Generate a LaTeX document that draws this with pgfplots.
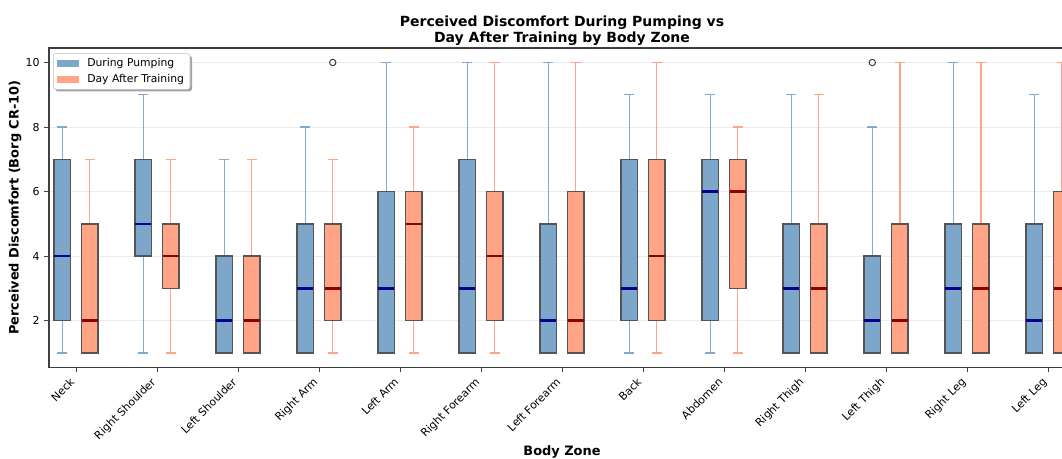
\documentclass[border=0pt]{standalone}
\usepackage{pgfplots}
\pgfplotsset{compat=1.18}
\usepgfplotslibrary{statistics}
\usetikzlibrary{shadows}
\usepackage{fontspec}
\setmainfont{DejaVu Sans}
\definecolor{bfill}{RGB}{125,167,202}
\definecolor{ofill}{RGB}{255,164,132}
\definecolor{bwhisk}{RGB}{128,170,208}
\definecolor{owhisk}{RGB}{255,165,135}
\definecolor{bmed}{RGB}{0,0,139}
\definecolor{omed}{RGB}{139,0,0}
\definecolor{boxedge}{RGB}{85,85,85}
\pgfplotsset{
  bstyle/.style={solid, mark=none, boxedge, forget plot,
    boxplot/box extend=0.2, boxplot/whisker extend=0.12,
    boxplot/every box/.style={draw=boxedge, fill=bfill, line width=1.1pt},
    boxplot/every whisker/.style={draw=bwhisk, line width=1.05pt},
    boxplot/every median/.style={draw=bmed, line width=1.8pt}},
  ostyle/.style={solid, mark=none, boxedge, forget plot,
    boxplot/box extend=0.2, boxplot/whisker extend=0.12,
    boxplot/every box/.style={draw=boxedge, fill=ofill, line width=1.1pt},
    boxplot/every whisker/.style={draw=owhisk, line width=1.05pt},
    boxplot/every median/.style={draw=omed, line width=1.8pt}},
  bluepatch/.style={legend image code/.code={%
    \pgfsetcornersarced{\pgfpointorigin}\pgfsetfillcolor{bfill}\pgfpathrectangle{\pgfpoint{0pt}{-2.4pt}}{\pgfpoint{16.5pt}{4.8pt}}\pgfusepath{fill}}},
  orangepatch/.style={legend image code/.code={%
    \pgfsetcornersarced{\pgfpointorigin}\pgfsetfillcolor{ofill}\pgfpathrectangle{\pgfpoint{0pt}{-2.4pt}}{\pgfpoint{16.5pt}{4.8pt}}\pgfusepath{fill}}},
}
\begin{document}
\begin{tikzpicture}
\begin{axis}[
  at={(36.75pt,68pt)}, anchor=south west,
  scale only axis, width=769.5pt, height=239.5pt,
  xmin=-0.333, xmax=12.333, ymin=0.55, ymax=10.45,
  boxplot/draw direction=y,
  xtick={0,1,2,3,4,5,6,7,8,9,10,11,12},
  xticklabels={Neck,Right Shoulder,Left Shoulder,Right Arm,Left Arm,Right Forearm,Left Forearm,Back,Abdomen,Right Thigh,Left Thigh,Right Leg,Left Leg},
  ytick={2,4,6,8,10},
  tick pos=left, tick align=outside, major tick length=3.5pt,
  tick style={black!75, line width=0.6pt},
  axis line style={black!75, line width=0.8pt},
  ymajorgrids, major grid style={black!8, line width=0.6pt},
  /pgf/number format/assume math mode=true,
  ticklabel style={font=\fontsize{8.2}{9.8}\selectfont},
  xticklabel style={xshift=-5pt, yshift=-1.5pt, rotate=45, anchor=north east, inner sep=1.5pt},
  xlabel={Body Zone},
  xlabel style={at={(axis description cs:0.5,-0.2665)}, anchor=center, font=\bfseries\fontsize{9.7}{11.6}\selectfont},
  ylabel={Perceived Discomfort (Borg CR-10)},
  ylabel style={at={(axis description cs:-0.0331,0.5)}, anchor=center, font=\bfseries\fontsize{9.7}{11.6}\selectfont},
  title={Perceived Discomfort During Pumping vs\\Day After Training by Body Zone},
  title style={at={(axis description cs:0.5,1)}, anchor=south, yshift=-7.5pt, align=center, font=\bfseries\fontsize{10.5}{11.5}\selectfont},
  legend cell align=left,
  legend style={at={(axis description cs:0,1)}, anchor=north west, xshift=3pt, yshift=-4pt,
    font=\fontsize{8.1}{9.7}\selectfont, draw=black!25, fill=white, rounded corners=2pt,
    drop shadow={shadow xshift=1.5pt, shadow yshift=-1.5pt, fill=black!45, opacity=0.8},
    inner xsep=2.5pt, inner ysep=1.5pt, row sep=0.5pt,
    /tikz/every odd column/.append style={column sep=4.5pt}},
]
% During Pumping (blue) and Day After Training (orange)
\addplot[bstyle, boxplot prepared={draw position=-0.17, lower whisker=1, lower quartile=2, median=4, upper quartile=7, upper whisker=8}] coordinates {};
\addplot[ostyle, boxplot prepared={draw position=0.17, lower whisker=1, lower quartile=1, median=2, upper quartile=5, upper whisker=7}] coordinates {};
\addplot[bstyle, boxplot prepared={draw position=0.83, lower whisker=1, lower quartile=4, median=5, upper quartile=7, upper whisker=9}] coordinates {};
\addplot[ostyle, boxplot prepared={draw position=1.17, lower whisker=1, lower quartile=3, median=4, upper quartile=5, upper whisker=7}] coordinates {};
\addplot[bstyle, boxplot prepared={draw position=1.83, lower whisker=1, lower quartile=1, median=2, upper quartile=4, upper whisker=7}] coordinates {};
\addplot[ostyle, boxplot prepared={draw position=2.17, lower whisker=1, lower quartile=1, median=2, upper quartile=4, upper whisker=7}] coordinates {};
\addplot[bstyle, boxplot prepared={draw position=2.83, lower whisker=1, lower quartile=1, median=3, upper quartile=5, upper whisker=8}] coordinates {};
\addplot[ostyle, boxplot prepared={draw position=3.17, lower whisker=1, lower quartile=2, median=3, upper quartile=5, upper whisker=7}] coordinates {};
\addplot[bstyle, boxplot prepared={draw position=3.83, lower whisker=1, lower quartile=1, median=3, upper quartile=6, upper whisker=10}] coordinates {};
\addplot[ostyle, boxplot prepared={draw position=4.17, lower whisker=1, lower quartile=2, median=5, upper quartile=6, upper whisker=8}] coordinates {};
\addplot[bstyle, boxplot prepared={draw position=4.83, lower whisker=1, lower quartile=1, median=3, upper quartile=7, upper whisker=10}] coordinates {};
\addplot[ostyle, boxplot prepared={draw position=5.17, lower whisker=1, lower quartile=2, median=4, upper quartile=6, upper whisker=10}] coordinates {};
\addplot[bstyle, boxplot prepared={draw position=5.83, lower whisker=1, lower quartile=1, median=2, upper quartile=5, upper whisker=10}] coordinates {};
\addplot[ostyle, boxplot prepared={draw position=6.17, lower whisker=1, lower quartile=1, median=2, upper quartile=6, upper whisker=10}] coordinates {};
\addplot[bstyle, boxplot prepared={draw position=6.83, lower whisker=1, lower quartile=2, median=3, upper quartile=7, upper whisker=9}] coordinates {};
\addplot[ostyle, boxplot prepared={draw position=7.17, lower whisker=1, lower quartile=2, median=4, upper quartile=7, upper whisker=10}] coordinates {};
\addplot[bstyle, boxplot prepared={draw position=7.83, lower whisker=1, lower quartile=2, median=6, upper quartile=7, upper whisker=9}] coordinates {};
\addplot[ostyle, boxplot prepared={draw position=8.17, lower whisker=1, lower quartile=3, median=6, upper quartile=7, upper whisker=8}] coordinates {};
\addplot[bstyle, boxplot prepared={draw position=8.83, lower whisker=1, lower quartile=1, median=3, upper quartile=5, upper whisker=9}] coordinates {};
\addplot[ostyle, boxplot prepared={draw position=9.17, lower whisker=1, lower quartile=1, median=3, upper quartile=5, upper whisker=9}] coordinates {};
\addplot[bstyle, boxplot prepared={draw position=9.83, lower whisker=1, lower quartile=1, median=2, upper quartile=4, upper whisker=8}] coordinates {};
\addplot[ostyle, boxplot prepared={draw position=10.17, lower whisker=1, lower quartile=1, median=2, upper quartile=5, upper whisker=10}] coordinates {};
\addplot[bstyle, boxplot prepared={draw position=10.83, lower whisker=1, lower quartile=1, median=3, upper quartile=5, upper whisker=10}] coordinates {};
\addplot[ostyle, boxplot prepared={draw position=11.17, lower whisker=1, lower quartile=1, median=3, upper quartile=5, upper whisker=10}] coordinates {};
\addplot[bstyle, boxplot prepared={draw position=11.83, lower whisker=1, lower quartile=1, median=2, upper quartile=5, upper whisker=9}] coordinates {};
\addplot[ostyle, boxplot prepared={draw position=12.17, lower whisker=1, lower quartile=1, median=3, upper quartile=6, upper whisker=10}] coordinates {};
% outliers
\addplot[forget plot, only marks, mark=o, mark size=2.4pt, draw=black!80, mark options={line width=0.7pt}] coordinates {(3.17,10) (9.83,10)};
% legend
\addlegendimage{bluepatch}
\addlegendentry{During Pumping}
\addlegendimage{orangepatch}
\addlegendentry{Day After Training}
\end{axis}
\pgfresetboundingbox
\path[use as bounding box] (0,0) rectangle (796.5pt,343.5pt);
\end{tikzpicture}
\end{document}
